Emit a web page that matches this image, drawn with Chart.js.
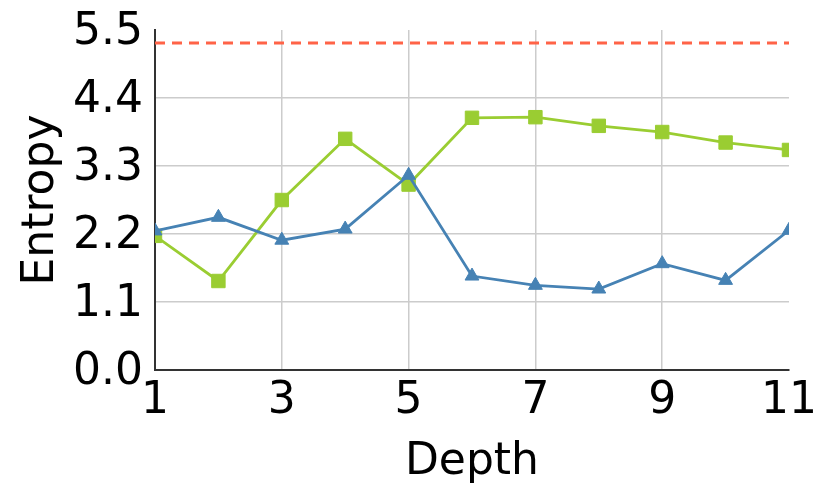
<!DOCTYPE html>
<html>
<head>
<meta charset="utf-8">
<script src="https://cdn.jsdelivr.net/npm/chart.js@4/dist/chart.umd.min.js"></script>
<style>
  html, body { margin: 0; padding: 0; background: #fff; }
  #wrap { width: 830px; height: 498px; }
</style>
</head>
<body>
<div id="wrap"><canvas id="chart" width="830" height="498"></canvas></div>
<script>
// ── Data ──────────────────────────────────────────────
const depths     = [1, 2, 3, 4, 5, 6, 7, 8, 9, 10, 11];
const blueValues = [2.25, 2.47, 2.10, 2.28, 3.15, 1.52, 1.37, 1.31, 1.72, 1.45, 2.26];
const greenValues = [2.17, 1.44, 2.75, 3.74, 3.00, 4.08, 4.09, 3.95, 3.85, 3.68, 3.56];
const refLevel   = 5.29;
const xTicks     = [1, 3, 5, 7, 9, 11];
const yTicks     = [0, 1.1, 2.2, 3.3, 4.4, 5.5];

const BLUE  = '#4682b4';
const GREEN = '#9acd32';
const RED   = '#ff6347';
const GRID  = '#cccccc';
const FONT  = { family: 'DejaVu Sans', size: 44 };

const toPts = vals => vals.map((v, i) => ({ x: depths[i], y: v }));

new Chart(document.getElementById('chart').getContext('2d'), {
  type: 'line',
  data: {
    datasets: [
      {
        data: toPts(blueValues),
        borderColor: BLUE, backgroundColor: BLUE,
        borderWidth: 2.8, pointStyle: 'triangle', pointRadius: 8,
        pointBorderWidth: 1, tension: 0,
      },
      {
        data: toPts(greenValues),
        borderColor: GREEN, backgroundColor: GREEN,
        borderWidth: 2.8, pointStyle: 'rect', pointRadius: 9.5,
        pointBorderWidth: 1, tension: 0,
      },
      {
        data: [{ x: depths[0], y: refLevel }, { x: depths[depths.length - 1], y: refLevel }],
        borderColor: RED, borderWidth: 2.8, borderDash: [10, 7],
        pointRadius: 0, tension: 0,
      },
    ],
  },
  options: {
    responsive: false,
    animation: false,
    layout: { padding: { left: 0, top: 0, right: 41, bottom: 0 } },
    plugins: { legend: { display: false }, tooltip: { enabled: false } },
    scales: {
      x: {
        type: 'linear', min: 1, max: 11,
        afterBuildTicks: s => { s.ticks = xTicks.map(v => ({ value: v })); },
        afterFit: s => { s.height = 128; },
        ticks: { color: '#000', font: FONT, padding: 5, maxRotation: 0 },
        grid: {
          drawTicks: false, lineWidth: 1.5,
          color: c => (c.tick && c.tick.value === 11) ? 'rgba(0,0,0,0)' : GRID,
        },
        border: { color: '#333', width: 2 },
        title: { display: true, text: 'Depth', color: '#000', font: FONT, padding: { top: 0, bottom: 9 } },
      },
      y: {
        min: 0, max: 5.5,
        afterBuildTicks: s => { s.ticks = yTicks.map(v => ({ value: v })); },
        afterFit: s => { s.width = 155; },
        ticks: { color: '#000', font: { ...FONT, lineHeight: 0.82 }, padding: 12, labelOffset: 3, callback: v => v.toFixed(1) },
        grid: {
          drawTicks: false, lineWidth: 1.5,
          color: c => (c.tick && c.tick.value === 5.5) ? 'rgba(0,0,0,0)' : GRID,
        },
        border: { color: '#333', width: 2 },
        title: { display: true, text: 'Entropy', color: '#000', font: FONT, padding: { top: 15, bottom: 0 } },
      },
    },
  },
});
</script>
</body>
</html>
